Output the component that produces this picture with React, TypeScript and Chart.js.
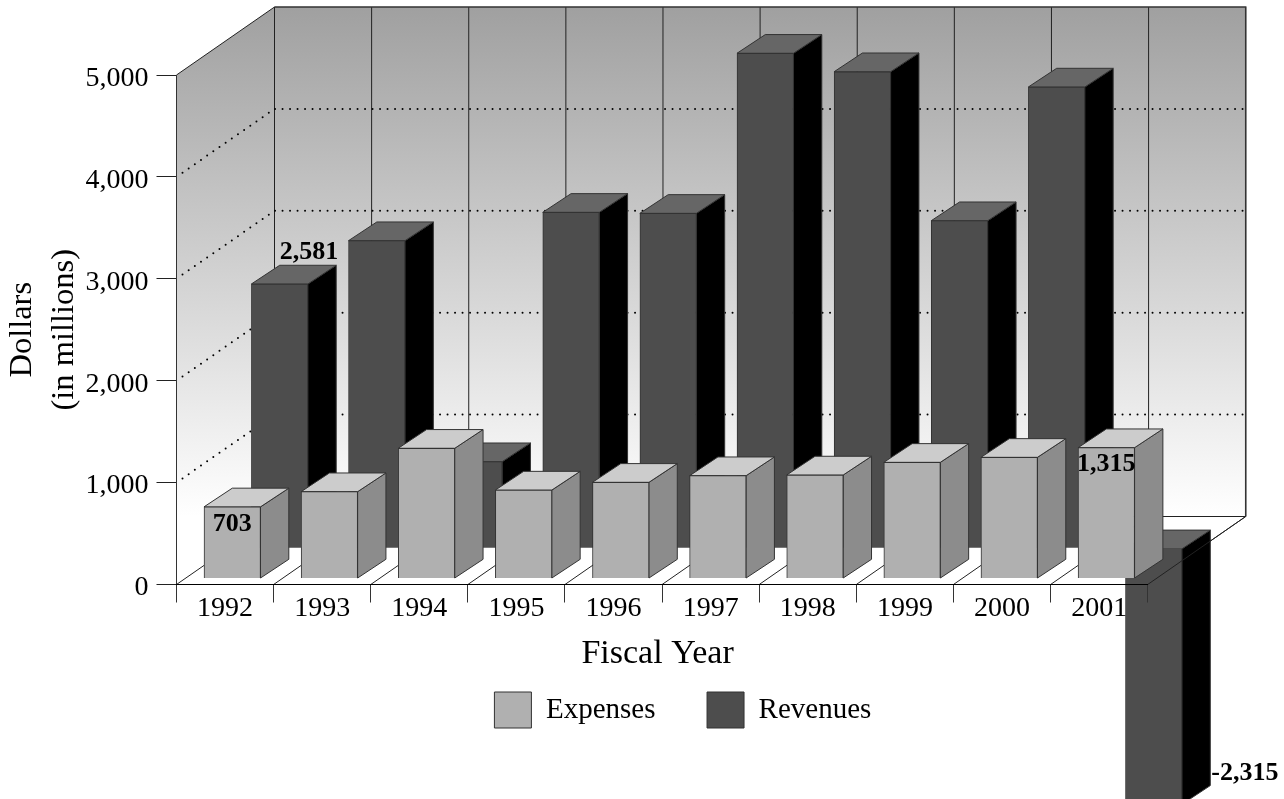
import React, { useEffect, useRef } from "react";
import { Chart, registerables } from "chart.js";

Chart.register(...registerables);

const categories = ["1992", "1993", "1994", "1995", "1996", "1997", "1998", "1999", "2000", "2001"];

// Bar heights. The printed labels below are kept separately because
// the source's drawn heights do not agree exactly with its printed numbers (the 2001 revenue
// bar is drawn longer than its "-2,315" label and runs off the page).
const expenses = [703, 852, 1278, 868, 944, 1009, 1016, 1140, 1189, 1284];
const revenues = [2594, 3019, 850, 3297, 3287, 4858, 4677, 3215, 4527, -2512];

const expenseLabels: Record<number, string> = { 0: "703", 9: "1,315" };
const revenueLabels: Record<number, string> = { 0: "2,581", 9: "-2,315" };

const yTicks = { min: 0, max: 5000, step: 1000 };

const FONT = "'Liberation Serif', 'Times New Roman', serif";
const EDGE = "#333333";

// Projection of the oblique view
const WALL = { dx: 98, dy: -68 };
const EXTRUDE = { dx: 28.3, dy: -18.7 };
const PLACE = [
  { dx: 7.2, dy: -6, top: "#cccccc", side: "#8c8c8c" },
  { dx: 54.6, dy: -36.2, top: "#666666", side: "#000000" },
];

function poly(ctx: CanvasRenderingContext2D, pts: number[][], fill?: string | CanvasGradient) {
  ctx.beginPath();
  pts.forEach((p, i) => (i ? ctx.lineTo(p[0], p[1]) : ctx.moveTo(p[0], p[1])));
  ctx.closePath();
  if (fill) {
    ctx.fillStyle = fill;
    ctx.fill();
  }
}

const box3d = {
  id: "box3d",
  beforeDraw(chart: any) {
    const { ctx, chartArea: a } = chart;
    const y = chart.scales.y;
    const x = chart.scales.x;
    const wx = WALL.dx;
    const wy = WALL.dy;
    const g = ctx.createLinearGradient(0, a.top + wy, 0, a.bottom + wy);
    g.addColorStop(0, "#a0a0a0");
    g.addColorStop(1, "#ffffff");
    ctx.save();
    poly(ctx, [[a.left, a.top], [a.left + wx, a.top + wy], [a.left + wx, a.bottom + wy], [a.left, a.bottom]], g);
    poly(ctx, [[a.left + wx, a.top + wy], [a.right + wx, a.top + wy], [a.right + wx, a.bottom + wy], [a.left + wx, a.bottom + wy]], g);

    // category boundaries: on the back wall and across the floor
    ctx.strokeStyle = "#222222";
    ctx.lineWidth = 1;
    const step = (a.right - a.left) / categories.length;
    for (let i = 0; i <= categories.length; i++) {
      const px = x.getPixelForValue(i) - step / 2;
      ctx.beginPath();
      ctx.moveTo(px + wx, a.top + wy);
      ctx.lineTo(px + wx, a.bottom + wy);
      ctx.moveTo(px, a.bottom);
      ctx.lineTo(px + wx, a.bottom + wy);
      ctx.stroke();
    }
    // wall outlines
    ctx.beginPath();
    ctx.moveTo(a.left, a.top);
    ctx.lineTo(a.left + wx, a.top + wy);
    ctx.moveTo(a.left + wx, a.bottom + wy);
    ctx.lineTo(a.right + wx, a.bottom + wy);
    ctx.stroke();
    ctx.lineWidth = 1.5;
    ctx.strokeStyle = "#333333";
    ctx.beginPath();
    ctx.moveTo(a.left + wx, a.top + wy);
    ctx.lineTo(a.right + wx, a.top + wy);
    ctx.lineTo(a.right + wx, a.bottom + wy);
    ctx.stroke();

    // dotted value lines
    ctx.strokeStyle = "#000000";
    ctx.lineWidth = 2;
    ctx.lineCap = "round";
    ctx.setLineDash([0, 7.5]);
    y.ticks.forEach((t: any) => {
      if (t.value === yTicks.min || t.value === yTicks.max) return;
      const py = y.getPixelForValue(t.value);
      ctx.beginPath();
      ctx.moveTo(a.left + 6, py - 4.2);
      ctx.lineTo(a.left + wx, py + wy);
      ctx.lineTo(a.right + wx, py + wy);
      ctx.stroke();
    });
    ctx.restore();
  },
  beforeDatasetDraw(chart: any, args: any) {
    const { ctx } = chart;
    const p = PLACE[args.index];
    ctx.save();
    ctx.translate(p.dx, p.dy);
    ctx.strokeStyle = EDGE;
    ctx.lineWidth = 1;
    args.meta.data.forEach((el: any) => {
      const l = el.x - el.width / 2;
      const r = el.x + el.width / 2;
      const t = Math.min(el.y, el.base);
      const b = Math.max(el.y, el.base);
      const { dx, dy } = EXTRUDE;
      poly(ctx, [[r, t], [r + dx, t + dy], [r + dx, b + dy], [r, b]], p.side);
      ctx.stroke();
      poly(ctx, [[l, t], [l + dx, t + dy], [r + dx, t + dy], [r, t]], p.top);
      ctx.stroke();
    });
  },
  afterDatasetDraw(chart: any) {
    chart.ctx.restore();
  },
  afterDatasetsDraw(chart: any) {
    const { ctx, chartArea: a } = chart;
    ctx.save();
    // right edge of the floor passes in front of the last bar
    ctx.strokeStyle = "#222222";
    ctx.lineWidth = 1;
    ctx.beginPath();
    ctx.moveTo(a.right, a.bottom);
    ctx.lineTo(a.right + WALL.dx, a.bottom + WALL.dy);
    ctx.stroke();

    ctx.fillStyle = "#000000";
    ctx.font = `bold 26px ${FONT}`;
    ctx.textBaseline = "middle";
    const exp = chart.getDatasetMeta(0).data;
    const rev = chart.getDatasetMeta(1).data;
    Object.keys(expenseLabels).forEach((k) => {
      const el = exp[+k];
      ctx.textAlign = "center";
      ctx.fillText(expenseLabels[+k], el.x + PLACE[0].dx, el.y + PLACE[0].dy + 17);
    });
    Object.keys(revenueLabels).forEach((k) => {
      const el = rev[+k];
      const neg = revenues[+k] < 0;
      const rx = el.x + PLACE[1].dx + el.width / 2;
      if (neg) {
        ctx.textAlign = "left";
        ctx.fillText(revenueLabels[+k], rx + EXTRUDE.dx + 1, el.y + PLACE[1].dy - 31);
      } else {
        ctx.textAlign = "center";
        ctx.fillText(revenueLabels[+k], rx + 1, el.y + PLACE[1].dy - 32);
      }
    });
    ctx.restore();
  },
  afterLayout(chart: any) {
    const lg = chart.legend;
    lg.left += 109;
    lg.right += 109;
    const pad = lg.options.labels.padding;
    const h = lg.height;
    lg.top = 692 - pad;
    lg.bottom = lg.top + h;
    // the axis title sits a little left of the middle of the axis
    const x = chart.scales.x;
    const draw = x.constructor.prototype.drawTitle;
    x.drawTitle = function () {
      chart.ctx.save();
      chart.ctx.translate(-4.5, 0);
      draw.call(x);
      chart.ctx.restore();
    };
  },
};

export default function App() {
  const ref = useRef<HTMLCanvasElement>(null);
  useEffect(() => {
    const chart = new Chart(ref.current as HTMLCanvasElement, {
      type: "bar",
      data: {
        labels: categories,
        datasets: [
          { label: "Expenses", data: expenses, backgroundColor: "#b0b0b0", borderColor: EDGE, borderWidth: 1, grouped: false, barThickness: 56.5, clip: false } as any,
          { label: "Revenues", data: revenues, backgroundColor: "#4d4d4d", borderColor: EDGE, borderWidth: 1, grouped: false, barThickness: 56.5, clip: false } as any,
        ],
      },
      options: {
        responsive: false,
        animation: false,
        devicePixelRatio: 1,
        events: [],
        layout: { padding: { top: 75, right: 136.3, left: 0, bottom: 0 } },
        plugins: {
          tooltip: { enabled: false },
          title: { display: false },
          legend: {
            position: "bottom",
            labels: {
              boxWidth: 37,
              boxHeight: 36,
              padding: 51.6,
              color: "#000000",
              font: { family: FONT, size: 29 },
            },
          },
        },
        scales: {
          x: {
            type: "category",
            afterFit: (s: any) => {
              s.height = 799 - 584.5 - s.chart.legend.height;
            },
            grid: { drawOnChartArea: false, tickLength: 18, color: "#333333", z: 1 },
            border: { display: true, color: "#000000", z: 1 },
            ticks: { color: "#000000", font: { family: FONT, size: 28 }, maxRotation: 0, autoSkip: false, padding: -11 },
            title: { display: true, text: "Fiscal Year", color: "#000000", font: { family: FONT, size: 34 }, padding: { top: 0, bottom: 27 } },
          },
          y: {
            type: "linear",
            min: yTicks.min,
            max: yTicks.max,
            afterFit: (s: any) => {
              s.width = 176.5;
            },
            grid: { drawOnChartArea: false, tickLength: 20, color: "#222222" },
            border: { display: true, color: "#333333" },
            ticks: {
              stepSize: yTicks.step,
              color: "#000000",
              padding: 8,
              labelOffset: 3.5,
              font: { family: FONT, size: 28 },
              callback: (v: any) => Number(v).toLocaleString("en-US"),
            },
            title: {
              display: true,
              text: ["Dollars", "(in millions)"],
              color: "#000000",
              font: { family: FONT, size: 32.5, lineHeight: 1.3 },
              padding: { top: 1.5, bottom: 0 },
            },
          },
        },
      },
      plugins: [box3d],
    } as any);
    return () => chart.destroy();
  }, []);
  return (
    <canvas
      ref={ref}
      width={1284}
      height={799}
      style={{ position: "fixed", left: 0, top: 0, width: 1284, height: 799, display: "block" }}
    />
  );
}
